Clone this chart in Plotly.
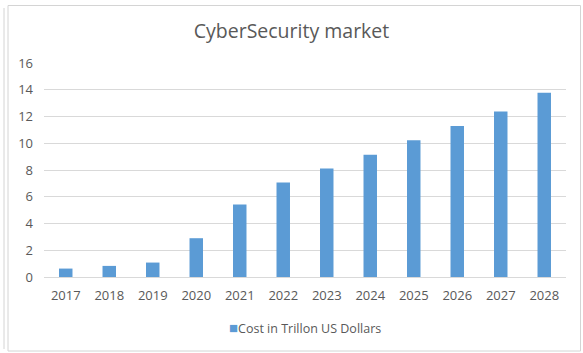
import plotly.graph_objects as go

# Cybersecurity market size by year, in trillion US dollars
years = ["2017", "2018", "2019", "2020", "2021", "2022",
         "2023", "2024", "2025", "2026", "2027", "2028"]
cost_trillion_usd = [0.63, 0.83, 1.08, 2.9, 5.42, 7.07,
                     8.12, 9.14, 10.22, 11.29, 12.38, 13.77]
y_ticks = [0, 2, 4, 6, 8, 10, 12, 14, 16]
series_name = "Cost in Trillon US Dollars"

W, H = 583, 353
ML, MR, MT, MB = 44, 17, 63, 76
PW, PH = W - ML - MR, H - MT - MB

def px_x(px):
    return (px - ML) / PW

def px_y(py):
    return (H - MB - py) / PH

text_color = "#595959"
grid_color = "#d9d9d9"
bar_color = "#5b9bd5"
font_family = "Open Sans, Liberation Sans, Arial, sans-serif"

fig = go.Figure(
    go.Bar(
        x=years,
        y=cost_trillion_usd,
        name=series_name,
        marker=dict(color=bar_color, line=dict(width=0)),
        showlegend=False,
    )
)

frame_color = "#d4d4d4"
shapes = [
    # outer chart frame
    dict(type="rect", xref="paper", yref="paper",
         x0=px_x(8), x1=px_x(580.5), y0=px_y(351), y1=px_y(5.5),
         line=dict(color=frame_color, width=1), layer="below"),
    # second line on the left edge
    dict(type="line", xref="paper", yref="paper",
         x0=px_x(4), x1=px_x(4), y0=px_y(349), y1=px_y(8),
         line=dict(color=frame_color, width=1)),
]

# compact legend: small square swatch right next to the series name
legend_key = dict(
    xref="paper", yref="paper",
    x=0.5, xanchor="center",
    y=px_y(327), yanchor="middle",
    showarrow=False,
    text=(f'<span style="color:{bar_color};font-size:15px">■</span>'
          f'{series_name}'),
    font=dict(family=font_family, size=12.5, color=text_color),
)

fig.update_layout(
    width=W,
    height=H,
    margin=dict(l=ML, r=MR, t=MT, b=MB),
    paper_bgcolor="white",
    plot_bgcolor="white",
    bargap=0.69,
    font=dict(family=font_family, color=text_color, size=12),
    title=dict(
        text="CyberSecurity market",
        x=0.5, xanchor="center",
        y=1 - 31 / H, yanchor="middle",
        font=dict(family=font_family, size=19.5, color=text_color),
    ),
    xaxis=dict(
        type="category",
        range=[-0.5, len(years) - 0.5],
        showgrid=False,
        showline=True,
        linecolor=grid_color,
        linewidth=1,
        ticks="",
        ticklabelstandoff=6,
        tickfont=dict(size=13, color=text_color),
        fixedrange=True,
    ),
    yaxis=dict(
        range=[0, 16],
        tickvals=y_ticks,
        showgrid=True,
        gridcolor=grid_color,
        gridwidth=1,
        zeroline=False,
        showline=False,
        ticks="",
        ticklabelstandoff=10,
        tickfont=dict(size=13, color=text_color),
        fixedrange=True,
    ),
    shapes=shapes,
    annotations=[legend_key],
)

fig.write_html("out.html")
